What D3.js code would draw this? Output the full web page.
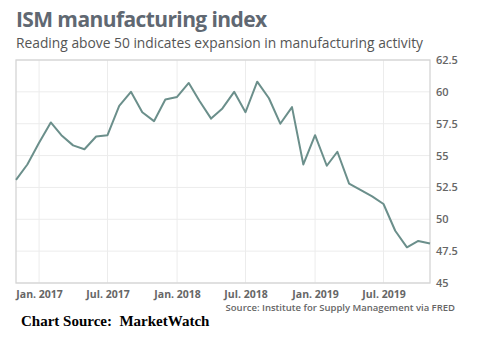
<!DOCTYPE html>
<html>
<head>
<meta charset="utf-8">
<script src="https://cdn.jsdelivr.net/npm/d3@7"></script>
<style>
  body { margin: 0; background: #fff; }
  svg { display: block; }
</style>
</head>
<body>
<div id="chart"></div>
<script>
'use strict';

// Data (monthly readings, Nov 2016 - Nov 2019)
const months = d3.timeMonths(new Date(2016, 10, 1), new Date(2019, 11, 1));
const values = [
    53.1, 54.3, 56.0, 57.6, 56.6, 55.8, 55.5, 56.5, 56.6, 58.9,
    60.0, 58.4, 57.7, 59.4, 59.6, 60.7, 59.3, 57.9, 58.7, 60.0,
    58.4, 60.8, 59.5, 57.5, 58.8, 54.3, 56.6, 54.2, 55.3, 52.8,
    52.3, 51.8, 51.2, 49.1, 47.8, 48.3, 48.1
];
const yTicks = [45, 47.5, 50, 52.5, 55, 57.5, 60, 62.5];
const xTicks = [
    new Date(2017, 0, 1), new Date(2017, 6, 1), new Date(2018, 0, 1),
    new Date(2018, 6, 1), new Date(2019, 0, 1), new Date(2019, 6, 1)
];
const monthNames = ['Jan.', 'Feb.', 'Mar.', 'Apr.', 'May', 'Jun.', 'Jul.', 'Aug.', 'Sep.', 'Oct.', 'Nov.', 'Dec.'];

const series = months.map((d, i) => ({date: d, value: values[i]}));

// Config svg
const w = 490;
const h = 353;
const plot = {left: 16, right: 430, top: 60, bottom: 283};

const svg = d3.select('#chart')
    .append('svg')
    .attr('width', w)
    .attr('height', h);

// Scales
const x = d3.scaleTime()
    .domain([months[0], months[months.length - 1]])
    .range([plot.left, plot.right]);
const y = d3.scaleLinear()
    .domain([45, 62.5])
    .range([plot.bottom, plot.top]);

// Title + subtitle
svg.append('text')
    .attr('x', 16)
    .attr('y', 27)
    .style('font-family', '"Open Sans", sans-serif')
    .style('font-weight', 700)
    .style('font-size', '21px')
    .style('letter-spacing', '-0.6px')
    .style('fill', '#606872')
    .text('ISM manufacturing index');

svg.append('text')
    .attr('x', 16)
    .attr('y', 48)
    .style('font-family', '"Open Sans", sans-serif')
    .style('font-size', '13.8px')
    .style('fill', '#555')
    .text('Reading above 50 indicates expansion in manufacturing activity');

// Gridlines
const grid = svg.append('g').attr('class', 'grid');
grid.selectAll('.hgrid')
    .data(yTicks)
    .join('line')
    .attr('x1', plot.left)
    .attr('x2', plot.right)
    .attr('y1', d => y(d))
    .attr('y2', d => y(d))
    .style('stroke', '#ececec')
    .style('stroke-width', 1);
grid.selectAll('.vgrid')
    .data(xTicks)
    .join('line')
    .attr('x1', d => x(d))
    .attr('x2', d => x(d))
    .attr('y1', plot.top)
    .attr('y2', plot.bottom)
    .style('stroke', '#ececec')
    .style('stroke-width', 1);

// Frame
svg.append('rect')
    .attr('x', plot.left)
    .attr('y', plot.top)
    .attr('width', plot.right - plot.left)
    .attr('height', plot.bottom - plot.top)
    .style('fill', 'none')
    .style('stroke', '#d4d4d4')
    .style('stroke-width', 1.3);

// Right axis
const yAxis = svg.append('g')
    .attr('transform', `translate(${plot.right},0)`)
    .call(d3.axisRight(y).tickValues(yTicks).tickSize(0).tickPadding(6).tickFormat(d3.format('')));
yAxis.select('.domain').remove();
yAxis.selectAll('text')
    .style('font-family', '"Open Sans", sans-serif')
    .style('font-weight', 600)
    .style('font-size', '11px')
    .style('fill', '#666');

// Bottom axis
const xAxis = svg.append('g')
    .attr('transform', `translate(0,${plot.bottom})`)
    .call(d3.axisBottom(x).tickValues(xTicks).tickSize(0).tickPadding(8)
        .tickFormat(d => `${monthNames[d.getMonth()]} ${d.getFullYear()}`));
xAxis.select('.domain').remove();
xAxis.selectAll('text')
    .style('font-family', '"Open Sans", sans-serif')
    .style('font-weight', 700)
    .style('font-size', '10.5px')
    .style('fill', '#666');

// Line
svg.append('path')
    .datum(series)
    .attr('d', d3.line().x(d => x(d.date)).y(d => y(d.value)))
    .style('fill', 'none')
    .style('stroke', '#6b8f8b')
    .style('stroke-width', 2)
    .style('stroke-linejoin', 'round');

// Source
svg.append('text')
    .attr('x', 455)
    .attr('y', 311)
    .attr('text-anchor', 'end')
    .style('font-family', '"Open Sans", sans-serif')
    .style('font-weight', 600)
    .style('font-size', '9.5px')
    .style('fill', '#666')
    .text('Source: Institute for Supply Management via FRED');

svg.append('text')
    .attr('x', 21)
    .attr('y', 326)
    .style('font-family', '"Liberation Serif", "Times New Roman", serif')
    .style('font-weight', 700)
    .style('font-size', '15px')
    .style('fill', '#000')
    .style('white-space', 'pre')
    .text('Chart Source:  MarketWatch');
</script>
</body>
</html>
